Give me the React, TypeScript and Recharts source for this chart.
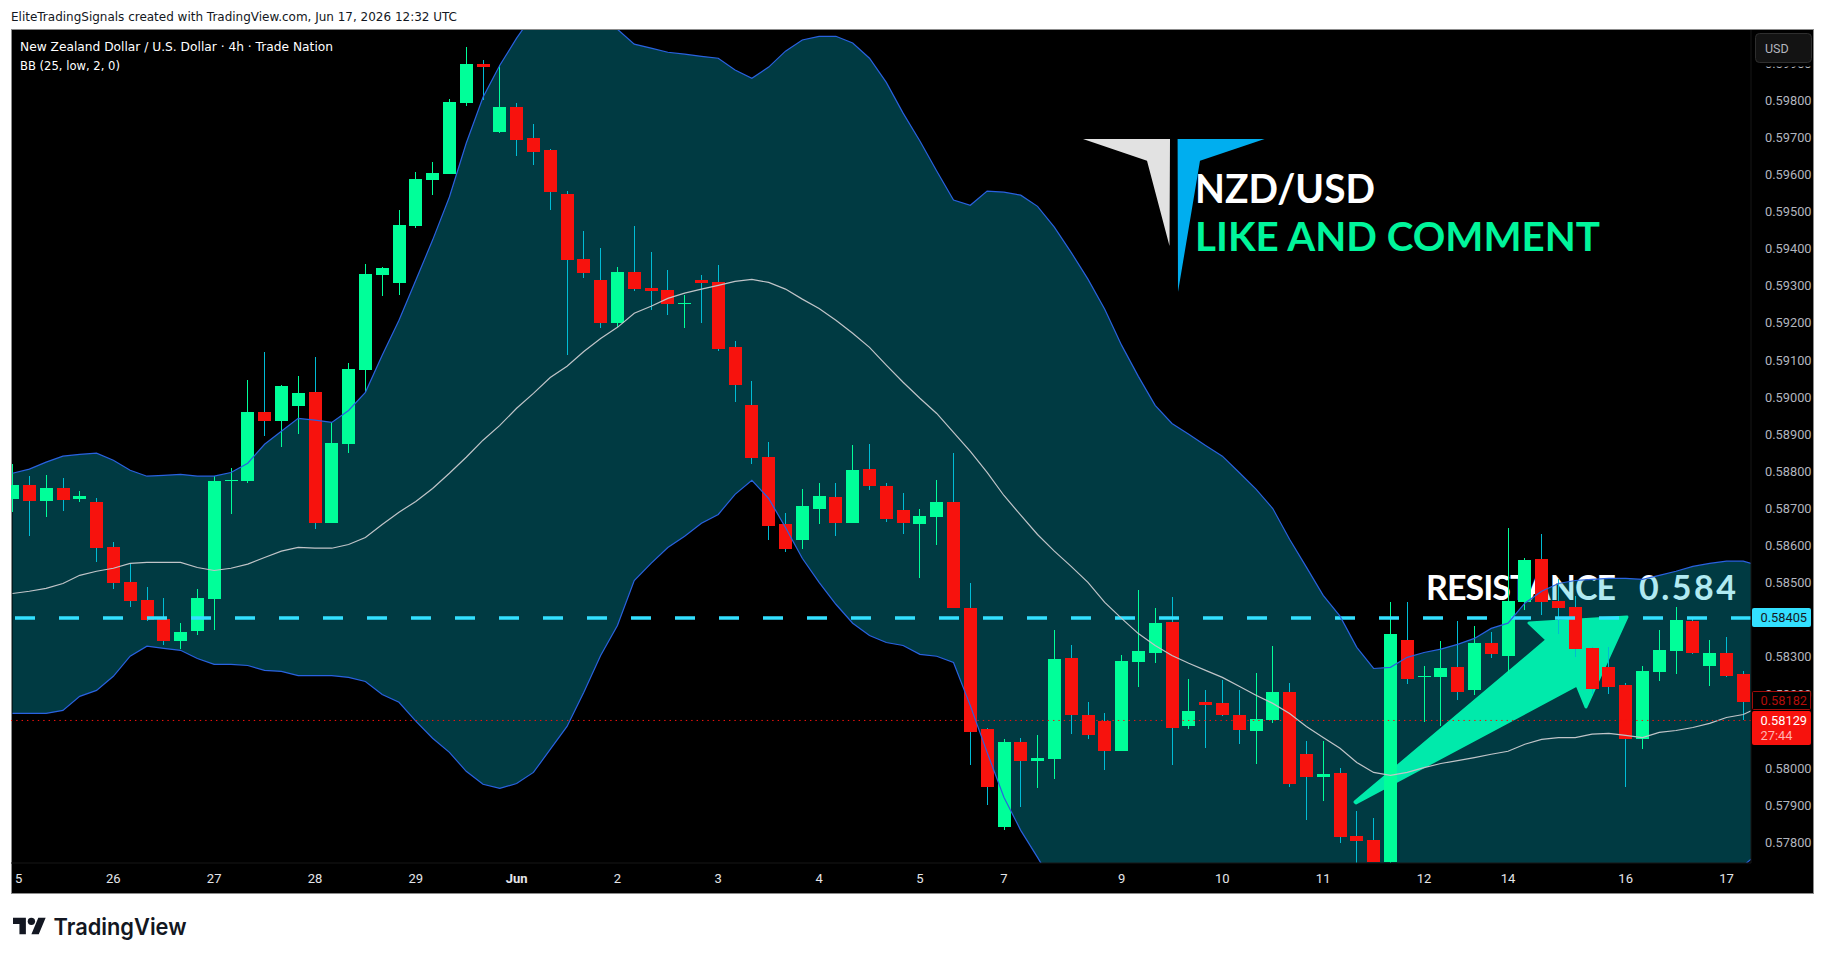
import React from 'react';
import { ComposedChart, Area, Line, Bar, XAxis, YAxis, ReferenceLine } from 'recharts';

const opens = [
  0.58725,0.58762,0.58719,0.58754,0.58725,0.58717,0.58595,0.58501,0.58453,0.58401,
  0.58342,0.58369,0.58455,0.58773,0.58773,0.58959,0.58935,0.58976,0.59013,0.58660,
  0.58873,0.59072,0.59328,0.59307,0.59460,0.59584,0.59601,0.59792,0.59897,0.59714,
  0.59781,0.59698,0.59665,0.59547,0.59372,0.59315,0.59199,0.59336,0.59293,0.59288,
  0.59250,0.59315,0.59310,0.59134,0.58978,0.58838,0.58657,0.58614,0.58698,0.58730,
  0.58660,0.58806,0.58760,0.58695,0.58657,0.58676,0.58717,0.58431,0.58105,0.57843,
  0.58070,0.58019,0.58024,0.58296,0.58145,0.58127,0.58046,0.58286,0.58312,0.58393,
  0.58113,0.58178,0.58175,0.58143,0.58100,0.58129,0.58207,0.58038,0.57976,0.57987,
  0.57817,0.57806,0.57749,0.58347,0.58245,0.58245,0.58272,0.58210,0.58337,0.58302,
  0.58447,0.58563,0.58450,0.58434,0.58323,0.58272,0.58224,0.58078,0.58259,0.58315,
  0.58396,0.58277,0.58312,0.58253,
];
const highs = [
  0.58819,0.58787,0.58789,0.58781,0.58746,0.58727,0.58609,0.58550,0.58488,0.58458,
  0.58391,0.58482,0.58787,0.58808,0.59046,0.59121,0.59034,0.59056,0.59108,0.58929,
  0.59091,0.59358,0.59350,0.59503,0.59606,0.59633,0.59803,0.59943,0.59908,0.59894,
  0.59792,0.59735,0.59668,0.59555,0.59447,0.59401,0.59350,0.59460,0.59390,0.59342,
  0.59274,0.59328,0.59355,0.59150,0.59043,0.58878,0.58687,0.58752,0.58768,0.58770,
  0.58870,0.58873,0.58768,0.58741,0.58698,0.58776,0.58849,0.58498,0.58110,0.58078,
  0.58083,0.58091,0.58372,0.58331,0.58180,0.58148,0.58304,0.58480,0.58431,0.58461,
  0.58242,0.58210,0.58237,0.58210,0.58256,0.58329,0.58229,0.58073,0.58073,0.58000,
  0.57884,0.57865,0.58447,0.58447,0.58275,0.58342,0.58396,0.58383,0.58366,0.58647,
  0.58566,0.58630,0.58509,0.58463,0.58326,0.58326,0.58229,0.58275,0.58372,0.58434,
  0.58404,0.58347,0.58355,0.58261,
];
const lows = [
  0.58690,0.58625,0.58676,0.58692,0.58717,0.58555,0.58482,0.58434,0.58396,0.58331,
  0.58321,0.58358,0.58374,0.58684,0.58768,0.58894,0.58867,0.58902,0.58644,0.58660,
  0.58849,0.59013,0.59272,0.59274,0.59455,0.59544,0.59601,0.59784,0.59800,0.59711,
  0.59649,0.59625,0.59503,0.59113,0.59320,0.59186,0.59188,0.59285,0.59234,0.59220,
  0.59186,0.59199,0.59123,0.58986,0.58819,0.58614,0.58582,0.58590,0.58657,0.58625,
  0.58660,0.58749,0.58663,0.58630,0.58512,0.58601,0.58431,0.58008,0.57900,0.57833,
  0.57895,0.57946,0.57970,0.58092,0.58078,0.57995,0.58046,0.58218,0.58283,0.58008,
  0.58105,0.58054,0.58140,0.58065,0.58013,0.58121,0.57951,0.57862,0.57911,0.57800,
  0.57744,0.57747,0.57744,0.58226,0.58124,0.58113,0.58183,0.58197,0.58296,0.58256,
  0.58426,0.58412,0.58361,0.58299,0.58199,0.58199,0.57951,0.58051,0.58234,0.58253,
  0.58307,0.58221,0.58245,0.58129,
];
const closes = [
  0.58762,0.58719,0.58754,0.58722,0.58733,0.58593,0.58498,0.58450,0.58399,0.58342,
  0.58366,0.58458,0.58773,0.58776,0.58959,0.58935,0.59029,0.59010,0.58660,0.58876,
  0.59075,0.59331,0.59347,0.59463,0.59587,0.59603,0.59795,0.59897,0.59889,0.59781,
  0.59692,0.59660,0.59552,0.59369,0.59334,0.59199,0.59336,0.59290,0.59285,0.59250,
  0.59253,0.59307,0.59131,0.59034,0.58835,0.58652,0.58590,0.58706,0.58733,0.58660,
  0.58803,0.58760,0.58673,0.58660,0.58679,0.58717,0.58431,0.58097,0.57949,0.58070,
  0.58019,0.58027,0.58294,0.58143,0.58089,0.58046,0.58288,0.58315,0.58391,0.58108,
  0.58154,0.58170,0.58143,0.58102,0.58132,0.58205,0.57957,0.57976,0.57984,0.57814,
  0.57803,0.57747,0.58361,0.58242,0.58248,0.58269,0.58207,0.58337,0.58307,0.58450,
  0.58560,0.58447,0.58431,0.58321,0.58215,0.58218,0.58078,0.58261,0.58318,0.58399,
  0.58312,0.58310,0.58250,0.58180,
];
const upperBand = [
  0.58795,0.58806,0.58825,0.58841,0.58846,0.58849,0.58830,0.58803,0.58787,0.58789,
  0.58792,0.58787,0.58787,0.58797,0.58822,0.58873,0.58908,0.58943,0.58938,0.58932,
  0.58964,0.59013,0.59113,0.59207,0.59315,0.59423,0.59539,0.59684,0.59808,0.59894,
  0.59967,0.60032,0.60069,0.60091,0.60102,0.60056,0.59991,0.59951,0.59940,0.59929,
  0.59924,0.59918,0.59913,0.59881,0.59859,0.59889,0.59932,0.59962,0.59972,0.59972,
  0.59954,0.59913,0.59848,0.59765,0.59690,0.59609,0.59531,0.59517,0.59555,0.59552,
  0.59544,0.59514,0.59458,0.59390,0.59318,0.59237,0.59140,0.59056,0.58978,0.58929,
  0.58900,0.58870,0.58841,0.58797,0.58752,0.58700,0.58617,0.58542,0.58466,0.58410,
  0.58326,0.58269,0.58272,0.58299,0.58312,0.58321,0.58334,0.58350,0.58377,0.58391,
  0.58445,0.58477,0.58498,0.58506,0.58509,0.58512,0.58512,0.58509,0.58520,0.58531,
  0.58544,0.58552,0.58558,0.58558,
];
const lowerBand = [
  0.58148,0.58148,0.58148,0.58156,0.58194,0.58210,0.58248,0.58302,0.58329,0.58323,
  0.58318,0.58296,0.58280,0.58280,0.58277,0.58264,0.58261,0.58250,0.58250,0.58250,
  0.58245,0.58234,0.58199,0.58178,0.58127,0.58081,0.58043,0.57992,0.57957,0.57946,
  0.57959,0.57989,0.58051,0.58113,0.58205,0.58304,0.58385,0.58506,0.58552,0.58595,
  0.58625,0.58660,0.58684,0.58738,0.58776,0.58727,0.58649,0.58566,0.58501,0.58442,
  0.58391,0.58358,0.58339,0.58331,0.58307,0.58302,0.58285,0.58169,0.58043,0.57922,
  0.57833,0.57760,0.57685,0.57612,0.57550,0.57496,0.57456,0.57429,0.57416,0.57416,
  0.57424,0.57440,0.57452,0.57458,0.57471,0.57476,0.57468,0.57463,0.57472,0.57478,
  0.57483,0.57492,0.57498,0.57511,0.57522,0.57528,0.57537,0.57541,0.57552,0.57558,
  0.57572,0.57577,0.57583,0.57592,0.57603,0.57608,0.57618,0.57633,0.57642,0.57661,
  0.57678,0.57703,0.57722,0.57738,
];
const basisLine = [
  0.58471,0.58477,0.58485,0.58498,0.58520,0.58531,0.58539,0.58552,0.58555,0.58555,
  0.58555,0.58541,0.58533,0.58539,0.58550,0.58568,0.58585,0.58595,0.58593,0.58593,
  0.58603,0.58622,0.58657,0.58690,0.58719,0.58754,0.58795,0.58838,0.58884,0.58924,
  0.58970,0.59010,0.59053,0.59083,0.59123,0.59158,0.59188,0.59226,0.59245,0.59266,
  0.59280,0.59291,0.59301,0.59312,0.59317,0.59309,0.59291,0.59264,0.59239,0.59207,
  0.59172,0.59134,0.59086,0.59040,0.58997,0.58956,0.58905,0.58854,0.58797,0.58735,
  0.58682,0.58630,0.58585,0.58544,0.58501,0.58447,0.58404,0.58363,0.58331,0.58304,
  0.58283,0.58264,0.58245,0.58221,0.58197,0.58175,0.58148,0.58113,0.58083,0.58054,
  0.58016,0.57989,0.57981,0.57989,0.58002,0.58013,0.58021,0.58029,0.58038,0.58046,
  0.58065,0.58078,0.58083,0.58083,0.58092,0.58094,0.58089,0.58083,0.58097,0.58102,
  0.58110,0.58121,0.58137,0.58145,
];
// The bands run on past the last candle, into the slot that the price scale cuts off.
const BAND_TAIL_SLOT = 104;
const BAND_TAIL_UPPER = 0.58545;
const BAND_TAIL_LOWER = 0.57775;
const BAND_TAIL_BASIS = 0.58166;
const LAST_VISIBLE_SLOT = 103.46;

const priceTicks = [
  0.578,0.579,0.58,0.582,0.583,0.585,0.586,0.587,0.588,
  0.589,0.59,0.591,0.592,0.593,0.594,0.595,0.596,0.597,0.598,0.599,
];
const dateTickIndex = [0,6,12,18,24,30,36,42,48,54,59,66,72,78,84,89,96,102];
const dateTickLabels = ['5','26','27','28','29','Jun','2','3','4','5','7','9','10','11','12','14','16','17'];

const RESISTANCE = 0.58405;
const LAST_PRICE = 0.58129;
const PREV_PRICE = 0.58182;
const PRICE_MIN = 0.57745;
const PRICE_MAX = 0.59989;

const GREEN = '#00ff99';
const RED = '#f7120d';
const WICK_DOWN = '#00bcd4';

const rows: any[] = opens.map((o, i) => ({
  i,
  open: o,
  close: closes[i],
  high: highs[i],
  low: lows[i],
  range: [lows[i], highs[i]],
  band: [lowerBand[i], upperBand[i]],
  upper: upperBand[i],
  lower: lowerBand[i],
  basis: basisLine[i],
}));
rows.push({
  i: BAND_TAIL_SLOT,
  band: [BAND_TAIL_LOWER, BAND_TAIL_UPPER],
  upper: BAND_TAIL_UPPER,
  lower: BAND_TAIL_LOWER,
  basis: BAND_TAIL_BASIS,
});

const Candle = (props: any) => {
  const { x, y, width, height, payload } = props;
  if (!payload || payload.high === undefined) return null;
  const h = Math.abs(height);
  const top = height < 0 ? y + height : y;
  const k = h / (payload.high - payload.low);
  const yOf = (v: number) => top + (payload.high - v) * k;
  const up = payload.close >= payload.open;
  const bodyTop = yOf(Math.max(payload.open, payload.close));
  const bodyBottom = yOf(Math.min(payload.open, payload.close));
  const cx = x + width / 2;
  return (
    <g shapeRendering="crispEdges">
      <rect x={cx - 0.5} y={top} width={1} height={h} fill={up ? GREEN : WICK_DOWN} />
      <rect x={x} y={bodyTop} width={width} height={Math.max(bodyBottom - bodyTop, 1)} fill={up ? GREEN : RED} />
    </g>
  );
};

const DateTick = (props: any) => {
  const { x, y, payload } = props;
  const pos = dateTickIndex.indexOf(payload.value);
  const label = dateTickLabels[pos];
  const bold = label === 'Jun';
  return (
    <text
      x={pos === 0 ? x + 2.5 : x}
      y={y + 4}
      textAnchor={pos === 0 ? 'start' : 'middle'}
      fontFamily="Roboto"
      fontSize={13}
      fontWeight={bold ? 700 : 400}
      fill="#e4e6ea"
    >
      {label}
    </text>
  );
};

const PriceTick = (props: any) => {
  const { x, y, payload } = props;
  return (
    <text x={x - 2} y={y + 4.5} fontFamily="Roboto" fontSize={12.8} fill="#b2b5be">
      {payload.value.toFixed(5)}
    </text>
  );
};

const fitText = (s: string, x: number, y: number, w: number, size: number, fill: string, family = 'DejaVu Sans', weight = 400) => (
  <text x={x} y={y} fontFamily={family} fontSize={size} fontWeight={weight} fill={fill} textLength={w} lengthAdjust="spacingAndGlyphs">
    {s}
  </text>
);

export default function App() {
  return (
    <div style={{ position: 'absolute', left: 0, top: 0, width: 1825, height: 960, background: '#fff', overflow: 'hidden' }}>
      <div style={{ position: 'absolute', left: 11, top: 29, width: 1803, height: 865, background: '#000', border: '1px solid #8c8c8c', boxSizing: 'border-box' }} />
      <svg width={1825} height={960} style={{ position: 'absolute', left: 0, top: 0 }}>
        {fitText('EliteTradingSignals created with TradingView.com, Jun 17, 2026 12:32 UTC', 11, 20.5, 446, 12, '#131722')}
        <text fontFamily="Lato" fontSize={34} fontWeight={700} fill="#ffffff">
          <tspan x={1426} y={600} textLength={190} lengthAdjust="spacing">RESISTANCE</tspan>
          <tspan x={1639} y={600} textLength={97} lengthAdjust="spacing">0.584</tspan>
        </text>
      </svg>
      <div style={{ position: 'absolute', left: 0, top: 0 }}>
        <ComposedChart
          width={1825}
          height={960}
          data={rows}
          margin={{ top: 30, right: 12, bottom: 67, left: 11 }}
          style={{ background: 'transparent' }}
        >
          <XAxis
            dataKey="i"
            type="number"
            domain={[-0.09, LAST_VISIBLE_SLOT]}
            allowDataOverflow
            ticks={dateTickIndex}
            interval={0}
            height={30}
            tick={<DateTick />}
            tickLine={false}
            tickMargin={10}
            axisLine={{ stroke: '#161616' }}
          />
          <YAxis
            orientation="right"
            width={62}
            domain={[PRICE_MIN, PRICE_MAX]}
            allowDataOverflow
            ticks={priceTicks}
            interval={0}
            tick={<PriceTick />}
            tickLine={false}
            tickMargin={10}
            axisLine={{ stroke: '#161616' }}
          />
          <ReferenceLine y={RESISTANCE} stroke="#33e0ff" strokeWidth={3.4} strokeDasharray="20 24" />
          <polygon
            points="1355,802 1547,640 1529,623 1627,617 1586,707 1577,685 1356,803"
            fill="#00ff99"
            stroke="#00ff99"
            strokeWidth={3}
            strokeLinejoin="round"
          />
          <Area dataKey="band" stroke="none" fill="#00bcd4" fillOpacity={0.31} isAnimationActive={false} dot={false} activeDot={false} />
          <Line dataKey="upper" stroke="#2962e0" strokeWidth={1.2} dot={false} activeDot={false} isAnimationActive={false} />
          <Line dataKey="lower" stroke="#2962e0" strokeWidth={1.2} dot={false} activeDot={false} isAnimationActive={false} />
          <Line dataKey="basis" stroke="#c0c4c8" strokeWidth={1.2} dot={false} activeDot={false} isAnimationActive={false} />
          <ReferenceLine y={LAST_PRICE} stroke={RED} strokeWidth={1} strokeDasharray="1.4 4" />
          <Bar dataKey="range" barSize={13} shape={<Candle />} isAnimationActive={false} />
        </ComposedChart>
      </div>
      <svg width={1825} height={960} style={{ position: 'absolute', left: 0, top: 0, pointerEvents: 'none' }}>
        {fitText('New Zealand Dollar / U.S. Dollar · 4h · Trade Nation', 20, 50.5, 313, 12, '#ffffff')}
        {fitText('BB (25, low, 2, 0)', 20, 70, 100, 12, '#ffffff')}

        <polygon points="1083,139 1170,139 1169.5,246 1147,160.7" fill="#e2e2e2" />
        <polygon points="1177.6,139 1264.6,139 1200,160.7 1178,292" fill="#00aeef" />
        {fitText('NZD/USD', 1195, 202.5, 180, 41, '#ffffff', 'Lato', 700)}
        {fitText('LIKE AND COMMENT', 1195, 251, 405, 41, '#00f59b', 'Lato', 700)}

        <rect x={1752} y={30} width={60} height={36.5} fill="#000" />
        <rect x={1755.5} y={33.5} width={56} height={29} rx={4} fill="#131313" stroke="#2e2e2e" />
        <text x={1765} y={53} fontFamily="Roboto" fontSize={12.5} fill="#b2b5be">USD</text>

        <rect x={1752} y={608} width={59} height={19} rx={2} fill="#33e0ff" />
        <text x={1760.5} y={622} fontFamily="Roboto" fontSize={12.8} fill="#131722">{RESISTANCE.toFixed(5)}</text>

        <rect x={1752.5} y={691.5} width={58} height={18} rx={1} fill="#000" stroke="#a00c0a" />
        <text x={1760.5} y={705} fontFamily="Roboto" fontSize={12.8} fill="#b30e0a">{PREV_PRICE.toFixed(5)}</text>

        <rect x={1752} y={711} width={59} height={34} rx={2} fill={RED} />
        <text x={1760.5} y={725} fontFamily="Roboto" fontSize={12.8} fill="#ffffff">{LAST_PRICE.toFixed(5)}</text>
        <text x={1760.5} y={740} fontFamily="Roboto" fontSize={12.8} fill="#ffb3b0">27:44</text>

        <g transform="translate(13,914) scale(0.92)" fill="#131722">
          <path d="M14 22H7V11H0V4h14v18zM28 22h-8l7.5-18h8L28 22z" />
          <circle cx={20} cy={8} r={4} />
        </g>
        <text x={53.5} y={935} fontFamily="Inter" fontSize={23.5} fontWeight={600} fill="#131722" textLength={133} lengthAdjust="spacingAndGlyphs">TradingView</text>
      </svg>
    </div>
  );
}
